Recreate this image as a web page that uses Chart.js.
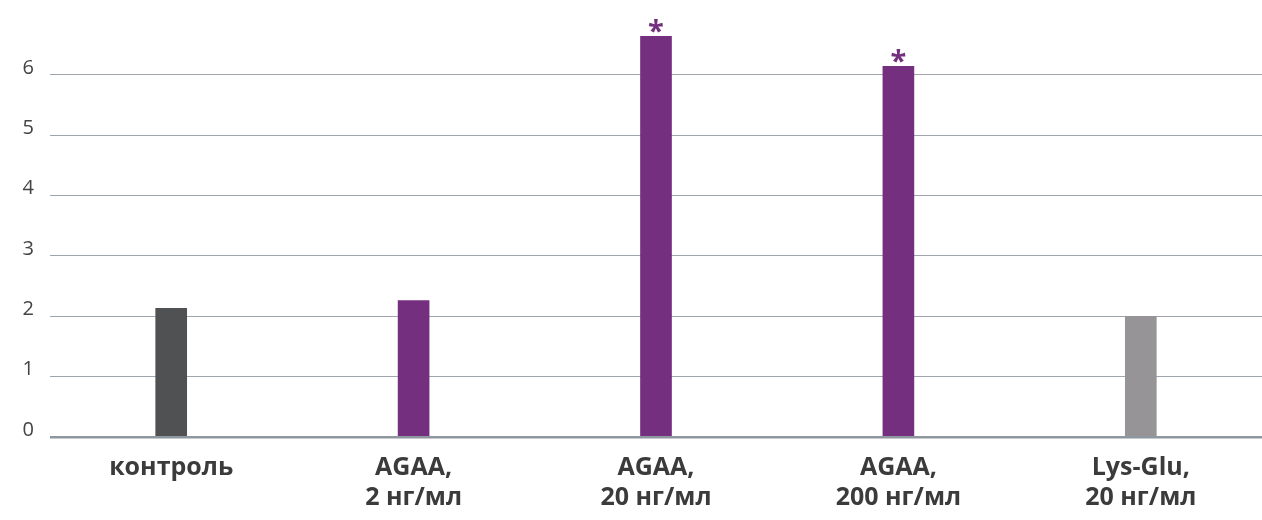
<!DOCTYPE html>
<html>
<head>
<meta charset="utf-8">
<script src="https://cdn.jsdelivr.net/npm/chart.js@4"></script>
<style>
  body{margin:0;background:#fff;}
  #wrap{width:1262px;height:520px;position:relative;}
</style>
</head>
<body>
<div id="wrap"><canvas id="myChart"></canvas></div>
<script>
const categories = [
  ['контроль'],
  ['AGAA,', '2 нг/мл'],
  ['AGAA,', '20 нг/мл'],
  ['AGAA,', '200 нг/мл'],
  ['Lys-Glu,', '20 нг/мл']
];
const values = [2.13, 2.26, 6.64, 6.14, 2.0];
const barColors = ['#505153', '#74307f', '#74307f', '#74307f', '#969496'];
const marks = ['', '', '*', '*', ''];
const yTicks = [0, 1, 2, 3, 4, 5, 6];

// asterisks above the significant bars
const starPlugin = {
  id: 'stars',
  afterDatasetsDraw(chart) {
    const ctx = chart.ctx;
    const meta = chart.getDatasetMeta(0);
    ctx.save();
    ctx.fillStyle = '#74307f';
    ctx.font = 'bold 29px "Open Sans"';
    ctx.textAlign = 'center';
    ctx.textBaseline = 'alphabetic';
    meta.data.forEach((bar, i) => {
      if (marks[i]) ctx.fillText(marks[i], bar.x, bar.y + 5);
    });
    ctx.restore();
  }
};

const ctx = document.getElementById('myChart');

new Chart(ctx, {
  type: 'bar',
  data: {
    labels: categories,
    datasets: [{
      data: values,
      backgroundColor: barColors,
      borderWidth: 0,
      barThickness: 31
    }]
  },
  plugins: [starPlugin],
  options: {
    responsive: true,
    maintainAspectRatio: false,
    animation: false,
    layout: { padding: 0 },
    plugins: {
      legend: false,
      tooltip: { enabled: false }
    },
    scales: {
      x: {
        grid: { display: false },
        border: { display: false },
        afterFit: (axis) => {
          axis.height = 83;
          axis.paddingLeft = 0;
          axis.paddingRight = 0;
        },
        ticks: {
          padding: 8,
          color: '#3b3b3c',
          font: { family: '"Open Sans"', weight: 'bold', size: 25, lineHeight: 1.2 }
        }
      },
      y: {
        min: 0,
        max: 7.24,
        afterFit: (axis) => {
          axis.width = 50;
          axis.paddingTop = 0;
          axis.paddingBottom = 0;
        },
        afterBuildTicks: (axis) => {
          axis.ticks = yTicks.map(v => ({ value: v }));
        },
        border: { display: false },
        grid: {
          drawTicks: false,
          color: (c) => c.tick && c.tick.value === 0 ? '#8e969e' : '#9fa6ad',
          lineWidth: (c) => c.tick && c.tick.value === 0 ? 2.5 : 1
        },
        ticks: {
          padding: 16,
          labelOffset: -7,
          color: '#444444',
          font: { family: '"Open Sans"', weight: 'normal', size: 20 }
        }
      }
    }
  }
});
</script>
</body>
</html>
